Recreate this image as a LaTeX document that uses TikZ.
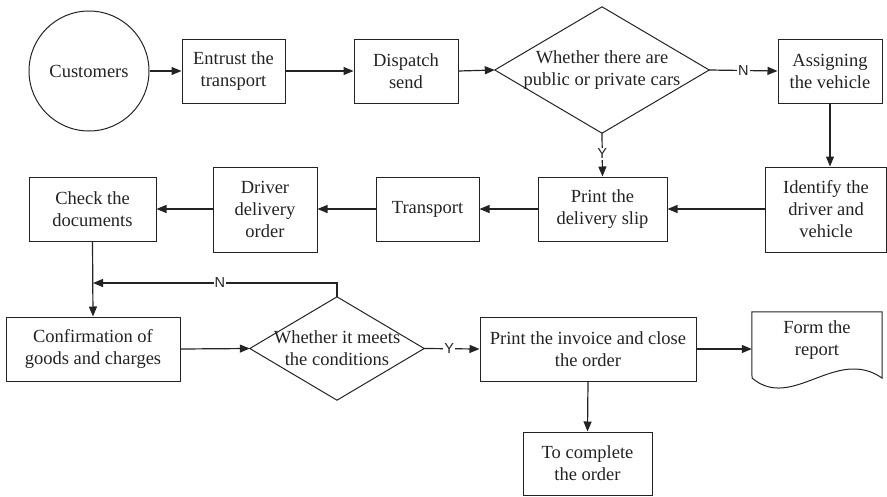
\documentclass[tikz,border=0pt]{standalone}
\usepackage{fontspec}
\setmainfont{Liberation Serif}
\newfontfamily\lblfont{Liberation Sans}
\usetikzlibrary{arrows.meta,calc}
\definecolor{ink}{RGB}{35,35,35}
\begin{document}
\begin{tikzpicture}[x=1pt,y=-1pt,
  box/.style={draw=ink, line width=1pt, rectangle, align=center, text=ink,
    font=\fontsize{18.5}{22}\selectfont, inner sep=2pt},
  shapebox/.style={rectangle, align=center, text=ink,
    font=\fontsize{18.5}{22}\selectfont, inner sep=0pt},
  arr/.style={draw=ink, line width=1.2pt, -{Triangle[length=10pt,width=8pt]}},
  lbl/.style={fill=white, inner sep=1pt, text=ink, font=\lblfont\fontsize{14.5}{16}\selectfont}]
\useasboundingbox (0,0) rectangle (887,496);

% row 1
\node[box, circle, minimum size=120pt] (cust) at (89,71) {Customers};
\node[box, minimum width=103pt, minimum height=64pt] (entrust) at (233.5,71) {Entrust the\\transport};
\node[box, minimum width=104pt, minimum height=64pt] (dispatch) at (406,71) {Dispatch\\send};
\node[shapebox, minimum width=214pt, minimum height=126pt] (d1) at (602,70) {Whether there are\\public or private cars};
\draw[ink, line width=1pt] (d1.north) -- (d1.east) -- (d1.south) -- (d1.west) -- cycle;
\node[box, minimum width=104pt, minimum height=64pt] (assign) at (830,71) {Assigning\\the vehicle};

% row 2
\node[box, minimum width=121pt, minimum height=85pt] (identify) at (826,209.5) {Identify the\\driver and\\vehicle};
\node[box, minimum width=129pt, minimum height=64pt] (print1) at (602.5,209) {Print the\\delivery slip};
\node[box, minimum width=103pt, minimum height=64pt] (transport) at (427.5,209) {Transport};
\node[box, minimum width=104pt, minimum height=85pt] (driver) at (265,209.5) {Driver\\delivery\\order};
\node[box, minimum width=127pt, minimum height=64pt] (check) at (92.5,209) {Check the\\documents};

% row 3
\node[box, minimum width=174pt, minimum height=64pt] (confirm) at (93,349) {Confirmation of\\goods and charges};
\node[shapebox, minimum width=174pt, minimum height=103pt] (d2) at (337,348.5) {Whether it meets\\the conditions};
\draw[ink, line width=1pt] (d2.north) -- (d2.east) -- (d2.south) -- (d2.west) -- cycle;
\node[box, minimum width=216pt, minimum height=64pt] (invoice) at (588,349) {Print the invoice and close\\the order};
\node[shapebox, minimum width=130pt, minimum height=56pt] (report) at (817,340) {Form the\\report};
\draw[ink, line width=1pt] (752,378) -- (report.north west) -- (report.north east) -- (882,378)
  .. controls (836,346) and (792,412) .. (752,378);
\node[box, minimum width=129pt, minimum height=63pt] (complete) at (587.5,463.5) {To complete\\the order};

\coordinate (j) at (93,283);

% connectors
\draw[arr] (cust.east) -- (entrust.west);
\draw[arr] (entrust.east) -- (dispatch.west);
\draw[arr] (dispatch.east) -- (d1.west);
\draw[arr] (d1.east) -- node[lbl]{N} (assign.west);
\draw[arr] (assign.south) -- (assign.south |- identify.north);
\draw[arr] (identify.west |- print1.east) -- (print1.east);
\draw[arr] (d1.south) -- node[lbl, pos=0.48]{Y} (print1.north);
\draw[arr] (print1.west) -- (transport.east);
\draw[arr] (transport.west) -- (transport.west -| driver.east);
\draw[arr] (driver.west |- check.east) -- (check.east);
\draw[arr] (check.south) -- (confirm.north);
\draw[arr] (d2.north) |- node[lbl, pos=0.74]{N} (j);
\draw[arr] (confirm.east) -- (d2.west);
\draw[arr] (d2.east) -- node[lbl, pos=0.45]{Y} (invoice.west);
\draw[arr] (invoice.east) -- (invoice.east -| report.west);
\draw[arr] (invoice.south) -- (complete.north);
\end{tikzpicture}
\end{document}
